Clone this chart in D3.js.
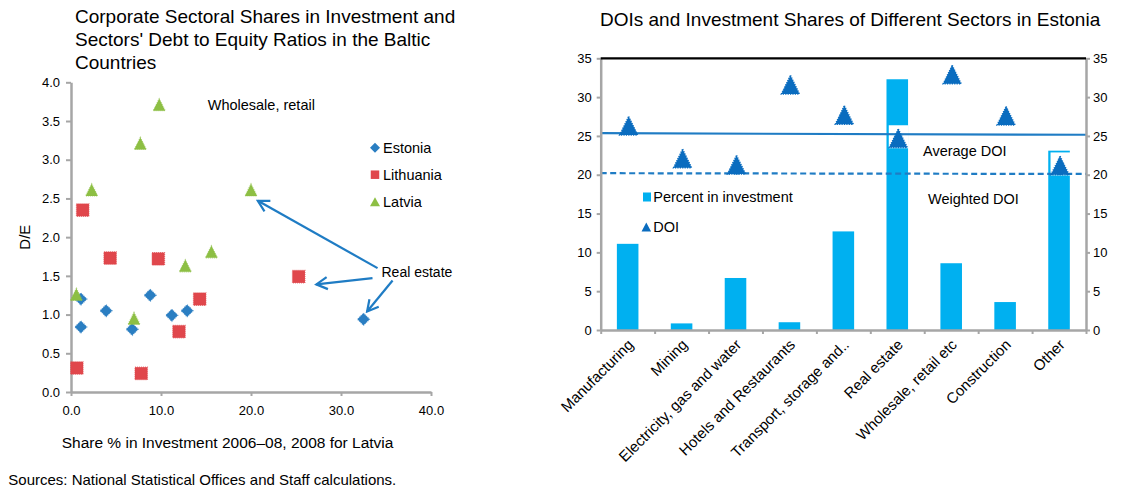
<!DOCTYPE html>
<html>
<head>
<meta charset="utf-8">
<script src="https://cdn.jsdelivr.net/npm/d3@7"></script>
<style>
  body { margin: 0; background: #fff; }
  svg { display: block; }
  text { font-family: "Liberation Sans", Arial, sans-serif; fill: #000; }
</style>
</head>
<body>
<svg id="chart" width="1124" height="491"></svg>
<script>
// ---------- Left panel: share in investment (x) vs debt-to-equity (y) ----------
const estoniaX   = [1.1, 3.9, 8.8, 6.8, 11.2, 12.9, 1.1, 32.5];
const estoniaY   = [0.84, 1.05, 1.25, 0.81, 0.99, 1.05, 1.20, 0.94];
const lithuaniaX = [1.3, 4.35, 9.7, 14.3, 12.0, 0.65, 7.8, 25.3];
const lithuaniaY = [2.35, 1.73, 1.72, 1.20, 0.78, 0.31, 0.24, 1.49];
const latviaX    = [9.8, 7.7, 2.3, 20.0, 12.7, 15.6, 0.6, 7.0];
const latviaY    = [3.71, 3.21, 2.61, 2.61, 1.63, 1.81, 1.26, 0.95];
const leftXTicks = [0, 10, 20, 30, 40];
const leftYTicks = [0, 0.5, 1, 1.5, 2, 2.5, 3, 3.5, 4];
const countryNames = ["Estonia", "Lithuania", "Latvia"];

// "Real estate" call-outs: arrow start/end in data units
const realEstateArrows = [
  { from: [34.06, 1.60], to: [20.76, 2.47] },
  { from: [33.5, 1.47],  to: [27.26, 1.39] },
  { from: [35.73, 1.44], to: [32.9, 1.04] }
];

// ---------- Right panel: Estonia by sector ----------
const sectors = ["Manufacturing", "Mining", "Electricity, gas and water", "Hotels and Restaurants",
                 "Transport, storage and..", "Real estate", "Wholesale, retail etc", "Construction", "Other"];
const investShare = [11.1, 0.85, 6.7, 1.0, 12.7, 32.3, 8.6, 3.6, 23.1];
const doi         = [26.3, 22.1, 21.3, 31.6, 27.7, 24.7, 32.9, 27.6, 21.2];
const averageDOI  = [25.35, 25.15];   // line start / end
const weightedDOI = [20.2, 20.1];     // line start / end
const rightYTicks = [0, 5, 10, 15, 20, 25, 30, 35];

const svg = d3.select("#chart");
const AXIS = "#a6a6a6";

// =================== LEFT PANEL ===================
const L = { left: 71, right: 431, top: 82.3, bottom: 392 };
const lx = d3.scaleLinear().domain([0, 40]).range([L.left, L.right]);
const ly = d3.scaleLinear().domain([0, 4]).range([L.bottom, L.top]);

// title
const lTitle = ["Corporate Sectoral Shares in Investment and",
                "Sectors' Debt to Equity Ratios in the Baltic",
                "Countries"];
svg.append("g").selectAll("text").data(lTitle).join("text")
  .attr("x", 75).attr("y", (d, i) => 23.3 + i * 22.6)
  .style("font-size", "19px").text(d => d);

// axes
const lyAxis = svg.append("g").attr("transform", `translate(${L.left},0)`)
  .call(d3.axisLeft(ly).tickValues(leftYTicks).tickFormat(d3.format(".1f"))
        .tickSize(5).tickSizeOuter(0).tickPadding(6));
const lxAxis = svg.append("g").attr("transform", `translate(0,${L.bottom})`)
  .call(d3.axisBottom(lx).tickValues(leftXTicks).tickFormat(d3.format(".1f"))
        .tickSize(4).tickSizeOuter(0).tickPadding(10));
[lyAxis, lxAxis].forEach(g => {
  g.select(".domain").attr("stroke", AXIS).attr("stroke-width", 2.5);
  g.selectAll(".tick line").attr("stroke", AXIS).attr("stroke-width", 2);
  g.selectAll(".tick text").style("font-size", "13px").attr("fill", "#000");
});

// axis titles
svg.append("text").attr("transform", `translate(30,${(L.top + L.bottom) / 2}) rotate(-90)`)
  .attr("text-anchor", "middle").style("font-size", "15px").text("D/E");
svg.append("text").attr("x", 61.7).attr("y", 448.3).style("font-size", "15.5px")
  .text("Share % in Investment 2006\u201308, 2008 for Latvia");

// marker shapes
const triPath = (w, h) => `M0,${-h / 2}L${w / 2},${h / 2}L${-w / 2},${h / 2}Z`;
const diamondPath = s => `M0,${-s / 2}L${s / 2},0L0,${s / 2}L${-s / 2},0Z`;
const squarePath = s => `M${-s / 2},${-s / 2}h${s}v${s}h${-s}Z`;

const series = [
  { name: countryNames[0], xs: estoniaX,   ys: estoniaY,   color: "#2a7ec2", shape: diamondPath(12), leg: diamondPath(10) },
  { name: countryNames[1], xs: lithuaniaX, ys: lithuaniaY, color: "#e0474c", shape: squarePath(12.5), leg: squarePath(8.5) },
  { name: countryNames[2], xs: latviaX,    ys: latviaY,    color: "#8dbf44", shape: triPath(12, 12), leg: triPath(10, 9) }
];

const pts = svg.append("g");
series.forEach(s => {
  pts.append("g").selectAll("path").data(s.xs.map((x, i) => [x, s.ys[i]])).join("path")
    .attr("transform", d => `translate(${lx(d[0])},${ly(d[1])})`)
    .attr("d", s.shape).attr("fill", s.color)
    .attr("stroke", s.color).attr("stroke-width", 1.2).attr("stroke-dasharray", "1,1")
    .attr("stroke-opacity", 0.7);
});

// legend
const lLeg = svg.append("g");
series.forEach((s, i) => {
  const y = 147.7 + i * 27;
  lLeg.append("path").attr("transform", `translate(375,${y})`)
    .attr("d", s.leg).attr("fill", s.color);
  lLeg.append("text").attr("x", 383).attr("y", y).attr("dy", "0.35em")
    .style("font-size", "14.5px").text(s.name);
});

// annotations
svg.append("text").attr("x", lx(15.19)).attr("y", ly(3.64))
  .style("font-size", "14.5px").text("Wholesale, retail");
svg.append("text").attr("x", lx(34.5)).attr("y", ly(1.49))
  .style("font-size", "14px").text("Real estate");

const defs = svg.append("defs");
defs.append("marker").attr("id", "openArrow").attr("markerUnits", "userSpaceOnUse")
  .attr("viewBox", "-14 -8 16 16").attr("markerWidth", 16).attr("markerHeight", 16)
  .attr("refX", 0).attr("refY", 0).attr("orient", "auto")
  .append("path").attr("d", "M-11,-6L0,0L-11,6").attr("fill", "none")
  .attr("stroke", "#1f7cc4").attr("stroke-width", 2.2);
svg.append("g").selectAll("line").data(realEstateArrows).join("line")
  .attr("x1", d => lx(d.from[0])).attr("y1", d => ly(d.from[1]))
  .attr("x2", d => lx(d.to[0])).attr("y2", d => ly(d.to[1]))
  .attr("stroke", "#1f7cc4").attr("stroke-width", 2.2)
  .attr("marker-end", "url(#openArrow)");

// sources line
svg.append("text").attr("x", 8.3).attr("y", 485).style("font-size", "15px")
  .text("Sources: National Statistical Offices and Staff calculations.");

// =================== RIGHT PANEL ===================
const R = { left: 600.7, right: 1086, top: 58.3, bottom: 330 };
const rx = d3.scaleBand().domain(sectors).range([R.left, R.right])
  .paddingInner(0.6).paddingOuter(0.3);
const ry = d3.scaleLinear().domain([0, 35]).range([R.bottom, R.top]);
const span = d3.scaleLinear().domain([0, 1]).range([R.left, R.right]);

svg.append("text").attr("x", 600).attr("y", 26).style("font-size", "19px")
  .text("DOIs and Investment Shares of Different Sectors in Estonia");

// bars
svg.append("g").selectAll("rect").data(sectors).join("rect")
  .attr("x", d => rx(d)).attr("width", rx.bandwidth())
  .attr("y", (d, i) => ry(investShare[i]))
  .attr("height", (d, i) => ry(0) - ry(investShare[i]))
  .attr("fill", "#00b0f0");

// white backing behind each DOI marker
svg.append("g").selectAll("rect").data(sectors).join("rect")
  .attr("x", d => rx(d) + rx.bandwidth() / 2 - 8.5).attr("width", 19.5)
  .attr("y", (d, i) => ry(doi[i]) - 13).attr("height", 23)
  .attr("fill", "#fff");

// reference lines
svg.append("line").attr("x1", span(0)).attr("x2", span(1))
  .attr("y1", ry(averageDOI[0])).attr("y2", ry(averageDOI[1]))
  .attr("stroke", "#1f7cc4").attr("stroke-width", 2.2);
svg.append("line").attr("x1", span(0)).attr("x2", span(1))
  .attr("y1", ry(weightedDOI[0])).attr("y2", ry(weightedDOI[1]))
  .attr("stroke", "#1f7cc4").attr("stroke-width", 2.2).attr("stroke-dasharray", "6,3.5");

// axes
const rlAxis = svg.append("g").attr("transform", `translate(${R.left},0)`)
  .call(d3.axisLeft(ry).tickValues(rightYTicks).tickSize(4).tickSizeOuter(0).tickPadding(5));
const rrAxis = svg.append("g").attr("transform", `translate(${R.right},0)`)
  .call(d3.axisRight(ry).tickValues(rightYTicks).tickSize(4).tickSizeOuter(0).tickPadding(3));
const rbAxis = svg.append("g").attr("transform", `translate(0,${R.bottom})`)
  .call(d3.axisBottom(span).tickValues(d3.range(0, sectors.length + 1).map(i => i / sectors.length))
        .tickSize(4).tickSizeOuter(0).tickFormat(""));
[rlAxis, rrAxis, rbAxis].forEach(g => {
  g.select(".domain").attr("stroke", AXIS).attr("stroke-width", 2.5);
  g.selectAll(".tick line").attr("stroke", AXIS).attr("stroke-width", 2);
  g.selectAll(".tick text").style("font-size", "13px").attr("fill", "#000");
});
// top frame
svg.append("line").attr("x1", span(0)).attr("x2", span(1))
  .attr("y1", ry(35)).attr("y2", ry(35)).attr("stroke", "#000").attr("stroke-width", 2.3);

// category labels
svg.append("g").selectAll("text").data(sectors).join("text")
  .attr("transform", d => `translate(${rx(d) + rx.bandwidth() / 2 + 3},${R.bottom + 12}) rotate(-45)`)
  .attr("text-anchor", "end").attr("dy", "0.35em")
  .style("font-size", "15px").text(d => d);

// DOI markers
svg.append("g").selectAll("path").data(sectors).join("path")
  .attr("transform", (d, i) => `translate(${rx(d) + rx.bandwidth() / 2 + 1},${ry(doi[i])})`)
  .attr("d", triPath(18, 18.5)).attr("fill", "#0a6cbf")
  .attr("stroke", "#0a6cbf").attr("stroke-width", 1.5).attr("stroke-dasharray", "1.2,1.2");

// legend
svg.append("rect").attr("x", 643).attr("y", 192.5).attr("width", 8).attr("height", 9).attr("fill", "#00b0f0");
svg.append("text").attr("x", 653.3).attr("y", 201.7).style("font-size", "14.5px").text("Percent in investment");
svg.append("path").attr("transform", "translate(646.3,227)").attr("d", triPath(9.5, 9)).attr("fill", "#0a6cbf");
svg.append("text").attr("x", 653.3).attr("y", 232).style("font-size", "14.5px").text("DOI");

// line labels
svg.append("text").attr("x", 923).attr("y", 156).style("font-size", "14.5px").text("Average DOI");
svg.append("text").attr("x", 928).attr("y", 204.3).style("font-size", "14.5px").text("Weighted DOI");
</script>
</body>
</html>
